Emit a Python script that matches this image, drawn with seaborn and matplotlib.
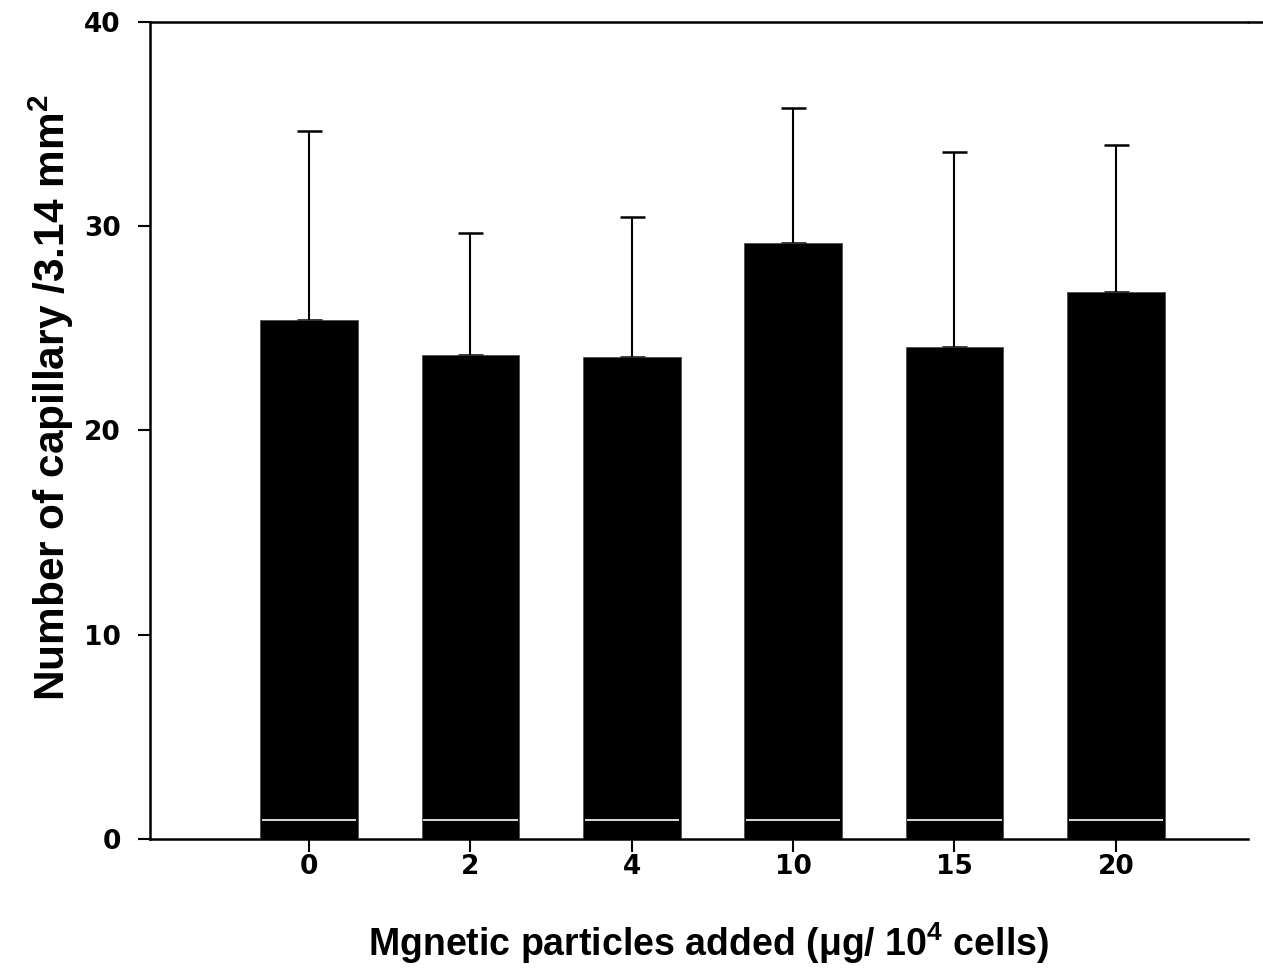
import matplotlib
matplotlib.use("Agg")
import matplotlib.pyplot as plt
import seaborn as sns
import numpy as np
import pandas as pd

categories = ["0", "2", "4", "10", "15", "20"]
means = [25.4, 23.7, 23.6, 29.2, 24.1, 26.8]
errors = [9.25, 5.95, 6.85, 6.6, 9.55, 7.2]
inner_line = [0.93, 0.93, 0.93, 0.93, 0.93, 0.93]
yticks = [0, 10, 20, 30, 40]

sns.set_theme(style="ticks")
plt.rcParams['font.family'] = ['Liberation Sans', 'DejaVu Sans']
plt.rcParams['mathtext.default'] = 'regular'
plt.rcParams['text.color'] = 'black'
plt.rcParams['axes.labelcolor'] = 'black'

df = pd.DataFrame({"dose": categories, "count": means})

fig = plt.figure(figsize=(12.63, 9.72), dpi=100)
ax = fig.add_axes([0.1188, 0.1368, 0.988 - 0.1188, 0.9774 - 0.1368])

bw = 0.605
sns.barplot(data=df, x="dose", y="count", order=categories, color="black",
            width=bw, saturation=1, edgecolor="#444444", linewidth=0.5, ax=ax, errorbar=None)
for p in ax.patches:
    p.set_zorder(3)

pos = np.arange(len(categories))
ax.errorbar(pos, means, yerr=[np.zeros(len(means)), errors], fmt="none",
            ecolor="black", elinewidth=1.5, capsize=9, capthick=1.8, zorder=2)
ax.hlines(inner_line, pos - bw / 2 + 0.01, pos + bw / 2 - 0.01, colors="white", linewidth=1.2, zorder=5)

ax.set_xlim(-0.985, 5.818)
ax.set_ylim(0, 40)

tick_font = dict(family="DejaVu Sans", fontweight="bold", fontsize=19, color="black")
ax.set_xticks(pos, categories, **tick_font)
ax.set_yticks(yticks, [str(t) for t in yticks], **tick_font)

for s in ["left", "bottom", "top"]:
    ax.spines[s].set_linewidth(1.8)
    ax.spines[s].set_color("black")
ax.spines["right"].set_visible(False)
# top line continues a little past the plot area, as in the original
ax.plot([5.818, 5.818 + 15 / 161.4], [40, 40], color="black", linewidth=1.8, clip_on=False, zorder=6)

ax.tick_params(axis="both", direction="out", length=9, width=1.5, colors="black")
ax.tick_params(axis="x", pad=2)
ax.tick_params(axis="y", pad=12)

ax.set_xlabel(r"Mgnetic particles added ($\mathregular{\mu}$g/ 10$\mathregular{^4}$ cells)",
              fontsize=27, fontweight="bold", labelpad=29, color="black")
ax.xaxis.label.set_x(0.509)
ax.set_ylabel(r"Number of capillary /3.14 mm$\mathregular{^2}$",
              fontsize=30.5, fontweight="bold", labelpad=6, color="black")
ax.yaxis.label.set_y(0.54)

fig.savefig("out.png", dpi=100)
